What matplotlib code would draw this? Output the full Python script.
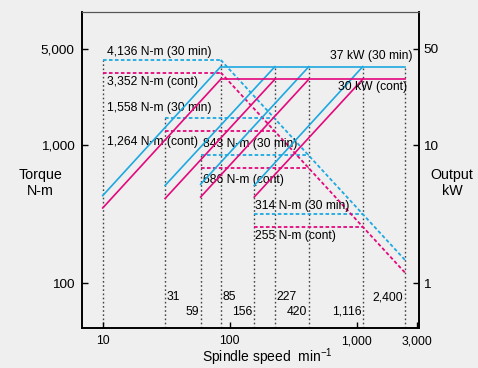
"""
Torque / output chart of the spindle vs spindle speed.
Saves out.png.
"""

import matplotlib
matplotlib.use('Agg')
import matplotlib.pyplot as plt
from matplotlib.ticker import FixedLocator, NullLocator

plt.rcParams['mathtext.fontset'] = 'custom'
plt.rcParams['mathtext.rm'] = 'Liberation Sans'

# ---- data ----
range_start = [10, 31, 59, 156]          # min-1
base_speed = [85, 227, 420, 1116]        # min-1
max_speed = 2400
torque_30min = [4136, 1558, 843, 314]    # N-m
torque_cont = [3352, 1264, 686, 255]     # N-m
torque_30min_at_max = 147
torque_cont_at_max = 119
power_30min_start = [4.3, 5.1, 5.2, 5.1]   # kW at start of each range
power_cont_start = [3.5, 4.1, 4.2, 4.2]
power_30min = 37                          # kW
power_cont = 30

vline_speeds = [10, 31, 59, 85, 156, 227, 420, 1116, 2400]
vline_tops = [4136, 1558, 843, 4136, 513, 3700, 3700, 3700, 3700]

speed_labels = ['31', '59', '85', '156', '227', '420', '1,116', '2,400']
speed_label_x = [31, 59, 85, 156, 227, 420, 1116, 2400]
speed_label_side = ['r', 'l', 'r', 'l', 'r', 'l', 'l', 'l']
speed_label_row = ['hi', 'lo', 'hi', 'lo', 'hi', 'lo', 'lo', 'hi']

torque_labels_30 = ['4,136 N-m (30 min)', '1,558 N-m (30 min)', '843 N-m (30 min)', '314 N-m (30 min)']
torque_labels_cont = ['3,352 N-m (cont)', '1,264 N-m (cont)', '686 N-m (cont)', '255 N-m (cont)']

BLUE = '#1CA9E1'
MAGENTA = '#E4087C'
GRID = '#444444'
BG = '#EFEFEF'
FONT = ['Liberation Sans', 'DejaVu Sans']
SMALL = 8.7

fig = plt.figure(figsize=(4.78, 3.68), dpi=100, facecolor=BG)
ax = fig.add_axes([81.7 / 478, 1 - 328.3 / 368, (419 - 81.7) / 478, (328.3 - 12.3) / 368])
ax.set_facecolor(BG)
ax.set_xscale('log')
ax.set_yscale('log')
ax.set_xlim(6.83, 3095)
ax.set_ylim(47.0, 9160)

ax2 = ax.twinx()
ax2.set_yscale('log')
ax2.set_ylim(0.470, 91.6)

dash = (0, (2.0, 1.3))

# vertical dotted guides
ax.vlines(vline_speeds, 47.0, vline_tops, colors=GRID, linestyles=(0, (1.2, 1.8)), linewidth=1.0, zorder=1)

# torque curves (dashed)
for s, b, t30, tc in zip(range_start, base_speed, torque_30min, torque_cont):
    ax.plot([s, b], [t30, t30], color=BLUE, linestyle=dash, linewidth=1.3, zorder=3)
    ax.plot([s, b], [tc, tc], color=MAGENTA, linestyle=dash, linewidth=1.3, zorder=3)
ax.plot([base_speed[0], max_speed], [torque_30min[0], torque_30min_at_max],
        color=BLUE, linestyle=dash, linewidth=1.3, zorder=3)
ax.plot([base_speed[0], max_speed], [torque_cont[0], torque_cont_at_max],
        color=MAGENTA, linestyle=dash, linewidth=1.3, zorder=3)

# output curves (solid)
for s, b, p30, pc in zip(range_start, base_speed, power_30min_start, power_cont_start):
    ax2.plot([s, b], [p30, power_30min], color=BLUE, linewidth=1.2, zorder=4)
    ax2.plot([s, b], [pc, power_cont], color=MAGENTA, linewidth=1.2, zorder=4)
ax2.plot([base_speed[0], max_speed], [power_30min, power_30min], color=BLUE, linewidth=1.2, zorder=4)
ax2.plot([base_speed[0], max_speed], [power_cont, power_cont], color=MAGENTA, linewidth=1.2, zorder=4)

# torque labels
lab_x = [10.9, 10.9, 61.5, 158]
lab_y30 = [4750, 1870, 1010, 360]
lab_yc = [2850, 1060, 560, 218]
for x, y, txt in zip(lab_x, lab_y30, torque_labels_30):
    ax.text(x, y, txt, ha='left', va='center', fontsize=SMALL, family=FONT, zorder=5)
for x, y, txt in zip(lab_x, lab_yc, torque_labels_cont):
    ax.text(x, y, txt, ha='left', va='center', fontsize=SMALL, family=FONT, zorder=5)

ax2.text(2775, 44, '37 kW (30 min)', ha='right', va='center', fontsize=SMALL, family=FONT, zorder=5)
ax2.text(2490, 26.5, '30 kW (cont)', ha='right', va='center', fontsize=SMALL, family=FONT, zorder=5)

# speed labels
for txt, x, side, row in zip(speed_labels, speed_label_x, speed_label_side, speed_label_row):
    y = 79 if row == 'hi' else 61.7
    if side == 'r':
        ax.text(x * 1.03, y, txt, ha='left', va='center', fontsize=SMALL, family=FONT)
    else:
        ax.text(x / 1.03, y, txt, ha='right', va='center', fontsize=SMALL, family=FONT)

# axes / ticks
ax.xaxis.set_major_locator(FixedLocator([10, 100, 1000, 3000]))
ax.set_xticklabels(['10', '100', '1,000', '3,000'], family=FONT, fontsize=SMALL)
ax.xaxis.set_minor_locator(NullLocator())
ax.yaxis.set_major_locator(FixedLocator([100, 1000, 5000]))
ax.set_yticklabels(['100', '1,000', '5,000'], family=FONT, fontsize=9.7)
ax.yaxis.set_minor_locator(NullLocator())
ax2.yaxis.set_major_locator(FixedLocator([1, 10, 50]))
ax2.set_yticklabels(['1', '10', '50'], family=FONT, fontsize=9.7)
ax2.yaxis.set_minor_locator(NullLocator())

ax.tick_params(axis='x', direction='in', length=4, width=1.0, pad=5)
ax.tick_params(axis='y', direction='in', length=4, width=1.0, pad=5)
ax2.tick_params(axis='y', direction='in', length=4, width=1.0, pad=3)

for a in (ax, ax2):
    for side in ('left', 'right', 'bottom'):
        a.spines[side].set_linewidth(1.2)
        a.spines[side].set_color('black')
    a.spines['top'].set_linewidth(0.8)
    a.spines['top'].set_color('#555555')

fig.text(40.5 / 478, 1 - 183 / 368, 'Torque\nN-m', ha='center', va='center',
         fontsize=10.3, family=FONT, linespacing=1.2)
fig.text(452 / 478, 1 - 183 / 368, 'Output\nkW', ha='center', va='center',
         fontsize=10.3, family=FONT, linespacing=1.2)
fig.text(267 / 478, 1 - 357.5 / 368, 'Spindle speed  min$^{-1}$', ha='center', va='center',
         fontsize=10, family=FONT)

fig.savefig('out.png', dpi=100, facecolor=BG)
